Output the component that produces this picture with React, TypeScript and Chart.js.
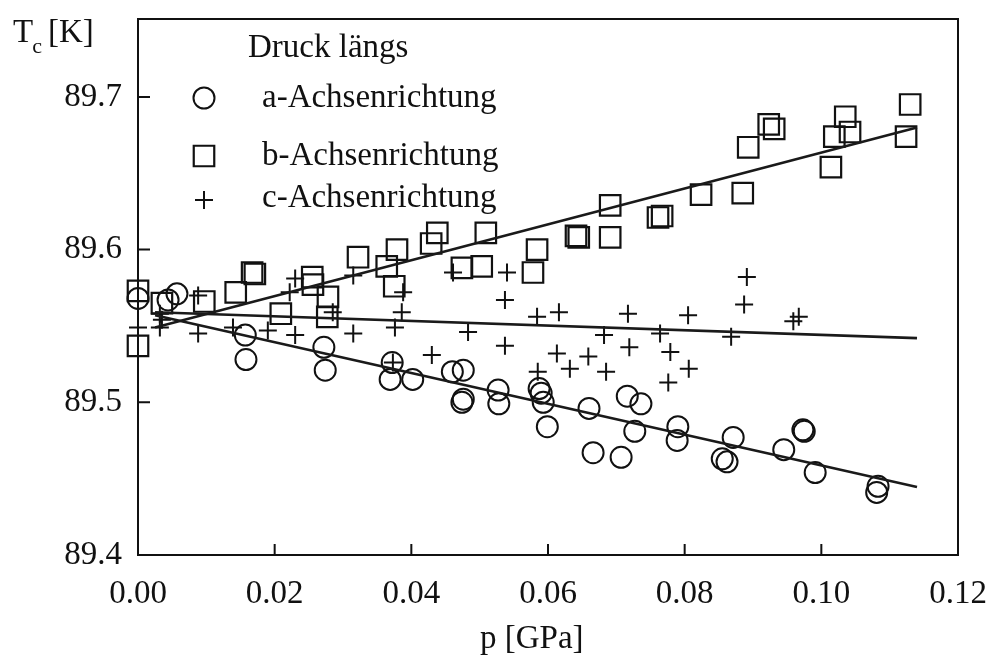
import React, { useEffect, useRef } from 'react';
import { Chart, registerables } from 'chart.js';

Chart.register(...registerables);

// Axis ticks
const xTicks = [0, 0.02, 0.04, 0.06, 0.08, 0.1, 0.12];
const yTicks = [89.4, 89.5, 89.6, 89.7];
const xMin = 0;
const xMax = 0.12;
const yMin = 89.4;
const yMax = 89.751;

// Pressure along the a axis
const aPressure = [
  0, 0.0057, 0.0044, 0.0157, 0.0158, 0.0272, 0.0274, 0.0372, 0.0369, 0.0402,
  0.046, 0.0476, 0.0474, 0.0476, 0.0527, 0.0528, 0.0587, 0.059, 0.0593, 0.0599,
  0.066, 0.0666, 0.0707, 0.0716, 0.0736, 0.0727, 0.079, 0.0789, 0.0871, 0.0855,
  0.0862, 0.0945, 0.0973, 0.0975, 0.0991, 0.1083, 0.1081,
];
const aTc = [
  89.568, 89.571, 89.567, 89.544, 89.528, 89.536, 89.521, 89.526, 89.515, 89.515,
  89.52, 89.521, 89.5, 89.502, 89.508, 89.499, 89.509, 89.506, 89.5, 89.484,
  89.496, 89.467, 89.464, 89.504, 89.499, 89.481, 89.484, 89.475, 89.477, 89.463,
  89.461, 89.469, 89.482, 89.481, 89.454, 89.445, 89.441,
];

// Pressure along the b axis
const bPressure = [
  0, 0, 0.0035, 0.0097, 0.0143, 0.0167, 0.0171, 0.0209, 0.0255, 0.0256,
  0.0278, 0.0277, 0.0322, 0.0379, 0.0364, 0.0375, 0.0429, 0.0438, 0.0474, 0.0503,
  0.0509, 0.0584, 0.0578, 0.0641, 0.0645, 0.0691, 0.0691, 0.0761, 0.0767, 0.0824,
  0.0885, 0.0893, 0.0923, 0.0931, 0.1014, 0.1019, 0.1035, 0.1042, 0.113, 0.1124,
];
const bTc = [
  89.573, 89.537, 89.565, 89.566, 89.572, 89.585, 89.584, 89.558, 89.582, 89.577,
  89.569, 89.556, 89.595, 89.6, 89.589, 89.576, 89.604, 89.611, 89.588, 89.589,
  89.611, 89.6, 89.585, 89.609, 89.608, 89.608, 89.629, 89.621, 89.622, 89.636,
  89.637, 89.667, 89.682, 89.679, 89.654, 89.674, 89.687, 89.677, 89.695, 89.674,
];

// Pressure along the c axis
const cPressure = [
  0, 0.0032, 0.0035, 0.0032, 0.0088, 0.0088, 0.0139, 0.019, 0.023, 0.023,
  0.0222, 0.0285, 0.0315, 0.0315, 0.0386, 0.0376, 0.0388, 0.0373, 0.0461, 0.054,
  0.0537, 0.0483, 0.043, 0.0537, 0.0584, 0.0616, 0.0682, 0.0717, 0.0764, 0.0805,
  0.0613, 0.0632, 0.0659, 0.0685, 0.0585, 0.0719, 0.0779, 0.0806, 0.0776, 0.0891,
  0.0887, 0.0868, 0.0959, 0.0967,
];
const cTc = [
  89.549, 89.558, 89.554, 89.549, 89.57, 89.545, 89.549, 89.547, 89.544, 89.581,
  89.572, 89.559, 89.545, 89.583, 89.559, 89.549, 89.572, 89.526, 89.585, 89.585,
  89.567, 89.546, 89.531, 89.537, 89.556, 89.559, 89.544, 89.558, 89.545, 89.557,
  89.532, 89.522, 89.53, 89.52, 89.52, 89.536, 89.533, 89.522, 89.513, 89.582,
  89.564, 89.543, 89.553, 89.556,
];

// Linear fits (end points)
const fitPressure = [0.0025, 0.114];
const aFit = [89.557, 89.4445];
const bFit = [89.549, 89.68];
const cFit = [89.559, 89.542];

const legendTitle = 'Druck längs';
const seriesLabels = ['a-Achsenrichtung', 'b-Achsenrichtung', 'c-Achsenrichtung'];

const INK = '#111111';
const FONT = '"Liberation Serif", "Times New Roman", serif';

const toPoints = (xs: number[], ys: number[]) => xs.map((x, i) => ({ x, y: ys[i] }));

const markerStyles = [
  { pointStyle: 'circle', pointRadius: 10.5, pointBorderWidth: 2 },
  { pointStyle: 'rect', pointRadius: 14.5, pointBorderWidth: 2.2 },
  { pointStyle: 'cross', pointRadius: 9, pointBorderWidth: 2 },
];

function drawMarker(ctx: CanvasRenderingContext2D, kind: number, x: number, y: number) {
  ctx.beginPath();
  if (kind === 0) {
    ctx.lineWidth = 2;
    ctx.arc(x, y, 10.5, 0, Math.PI * 2);
  } else if (kind === 1) {
    ctx.lineWidth = 2.2;
    const h = 14.5 * Math.SQRT1_2;
    ctx.rect(x - h, y - h, 2 * h, 2 * h);
  } else {
    ctx.lineWidth = 2;
    ctx.moveTo(x - 9, y);
    ctx.lineTo(x + 9, y);
    ctx.moveTo(x, y - 9);
    ctx.lineTo(x, y + 9);
  }
  ctx.stroke();
}

const framePlugin = {
  id: 'frame',
  beforeDatasetsDraw(chart: any) {
    const { ctx, chartArea: a, scales } = chart;
    const xs = scales.x;
    const ys = scales.y;
    ctx.save();
    ctx.strokeStyle = INK;
    ctx.lineWidth = 2;
    ctx.strokeRect(a.left, a.top, a.right - a.left, a.bottom - a.top);
    ctx.beginPath();
    xTicks.forEach((v) => {
      const px = xs.getPixelForValue(v);
      if (px <= a.left + 1 || px >= a.right - 1) return;
      ctx.moveTo(px, a.bottom);
      ctx.lineTo(px, a.bottom - 11);
    });
    yTicks.forEach((v) => {
      const py = ys.getPixelForValue(v);
      if (py >= a.bottom - 1) return;
      ctx.moveTo(a.left, py);
      ctx.lineTo(a.left + 12, py);
    });
    ctx.stroke();
    ctx.restore();
  },
  afterDraw(chart: any) {
    const { ctx } = chart;
    ctx.save();
    ctx.fillStyle = INK;
    ctx.strokeStyle = INK;
    ctx.textBaseline = 'alphabetic';
    ctx.textAlign = 'left';

    // y axis title: T_c [K]
    ctx.font = `33px ${FONT}`;
    ctx.fillText('T', 13, 42);
    const tW = ctx.measureText('T').width;
    ctx.font = `22px ${FONT}`;
    ctx.fillText('c', 13 + tW - 1, 53);
    ctx.font = `33px ${FONT}`;
    ctx.fillText('[K]', 48, 42);

    // x axis title
    ctx.fillText('p [GPa]', 480, 648);

    // legend
    ctx.fillText(legendTitle, 248, 57);
    const rows = [
      { my: 98, ty: 107 },
      { my: 156, ty: 165 },
      { my: 200, ty: 207 },
    ];
    rows.forEach((r, i) => {
      drawMarker(ctx, i, 204, r.my);
      ctx.font = `33px ${FONT}`;
      ctx.fillText(seriesLabels[i], 262, r.ty);
    });
    ctx.restore();
  },
};

export default function App() {
  const canvasRef = useRef<HTMLCanvasElement | null>(null);

  useEffect(() => {
    if (!canvasRef.current) return;
    const scatter = (label: string, xs: number[], ys: number[], i: number) => ({
      type: 'scatter' as const,
      label,
      data: toPoints(xs, ys),
      borderColor: INK,
      backgroundColor: 'rgba(0,0,0,0)',
      pointBackgroundColor: 'rgba(0,0,0,0)',
      pointBorderColor: INK,
      ...markerStyles[i],
      pointHoverRadius: markerStyles[i].pointRadius,
      showLine: false,
      clip: false as const,
    });
    const fit = (ys: number[]) => ({
      type: 'line' as const,
      label: 'fit',
      data: toPoints(fitPressure, ys),
      borderColor: '#1a1a1a',
      borderWidth: 2.6,
      pointRadius: 0,
      pointHoverRadius: 0,
      fill: false,
      tension: 0,
    });

    const chart = new Chart(canvasRef.current, {
      type: 'scatter',
      data: {
        datasets: [
          fit(aFit),
          fit(bFit),
          fit(cFit),
          scatter(seriesLabels[0], aPressure, aTc, 0),
          scatter(seriesLabels[1], bPressure, bTc, 1),
          scatter(seriesLabels[2], cPressure, cTc, 2),
        ] as any,
      },
      options: {
        responsive: false,
        animation: false,
        events: [],
        layout: { padding: { left: 0, top: 19, right: 31, bottom: 0 } },
        plugins: {
          legend: { display: false },
          tooltip: { enabled: false },
          title: { display: false },
        },
        scales: {
          x: {
            type: 'linear',
            min: xMin,
            max: xMax,
            afterBuildTicks: (s: any) => {
              s.ticks = xTicks.map((v) => ({ value: v }));
            },
            afterFit: (s: any) => {
              s.height = 100;
              s.paddingLeft = 0;
              s.paddingRight = 0;
            },
            grid: { display: false, drawTicks: false },
            border: { display: false },
            ticks: {
              autoSkip: false,
              maxRotation: 0,
              padding: 20,
              color: INK,
              font: { family: FONT, size: 33 },
              callback: (v: any) => Number(v).toFixed(2),
            },
          },
          y: {
            type: 'linear',
            min: yMin,
            max: yMax,
            afterBuildTicks: (s: any) => {
              s.ticks = yTicks.map((v) => ({ value: v }));
            },
            afterFit: (s: any) => {
              s.width = 138;
              s.paddingTop = 0;
              s.paddingBottom = 0;
            },
            grid: { display: false, drawTicks: false },
            border: { display: false },
            ticks: {
              autoSkip: false,
              padding: 16,
              color: INK,
              font: { family: FONT, size: 33 },
              callback: (v: any) => Number(v).toFixed(1),
            },
          },
        },
      },
      plugins: [framePlugin],
    });
    return () => chart.destroy();
  }, []);

  return (
    <div style={{ position: 'fixed', left: 0, top: 0, width: 989, height: 655, background: '#fff' }}>
      <canvas ref={canvasRef} width={989} height={655} style={{ display: 'block' }} />
    </div>
  );
}
